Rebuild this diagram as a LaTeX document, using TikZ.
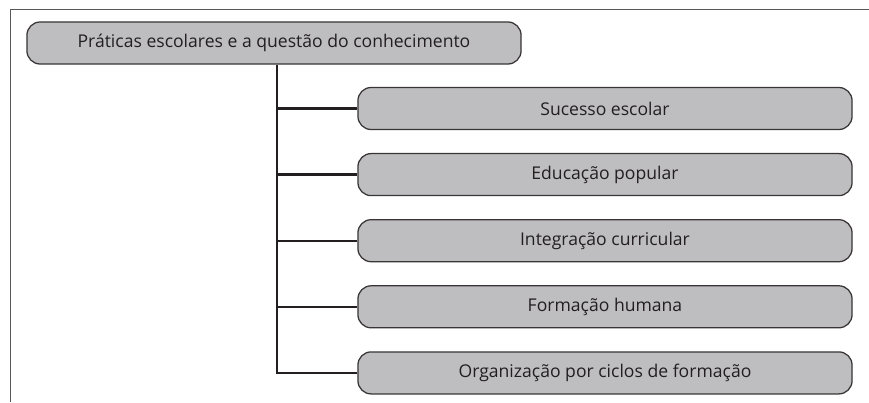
\documentclass[tikz,border=0pt]{standalone}
\usepackage{fontspec}
\setmainfont{Open Sans}
\usepackage{tikz}
\definecolor{boxgray}{RGB}{190,190,192}
\definecolor{inkgray}{RGB}{35,31,32}

\begin{document}
\begin{tikzpicture}[x=0.025cm, y=-0.025cm,
    every node/.style={font=\fontsize{12.5}{15}\selectfont, text=inkgray},
    topic/.style={draw=inkgray!90, line width=0.9pt, fill=boxgray, rounded corners=0.33cm,
      minimum width=12.35cm, minimum height=1.05cm, inner sep=0pt},
    branch/.style={draw=inkgray, line width=1.7pt}]
    \useasboundingbox (0, 0) rectangle (869, 402);
    \draw[inkgray!75, line width=0.8pt] (869, 9.5) -- (10.5, 9.5) -- (10.5, 402);
    \node (root) [topic] at (274, 43) {Práticas escolares e a questão do conhecimento};
    \node (c1) [topic] at (605, 108.5) {Sucesso escolar};
    \node (c2) [topic] at (605, 174.6) {Educação popular};
    \node (c3) [topic] at (605, 240.7) {Integração curricular};
    \node (c4) [topic] at (605, 306.8) {Formação humana};
    \node (c5) [topic] at (605, 372.9) {Organização por ciclos de formação};
    \coordinate (trunk) at ([xshift=0.075cm]root.south);
    \draw[branch] (trunk) |- (c5.west);
    \foreach \c in {c1, c2, c3, c4}
    \draw[branch] (trunk |- \c.west) -- (\c.west);
  \end{tikzpicture}
\end{document}
